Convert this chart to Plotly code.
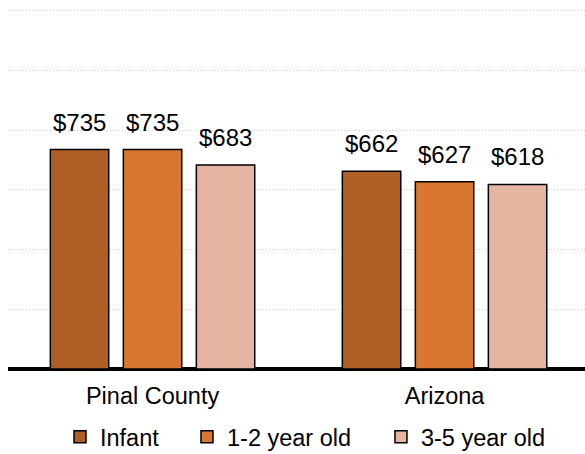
import plotly.graph_objects as go

# Average monthly child care cost by age group
regions = ["Pinal County", "Arizona"]
age_groups = ["Infant", "1-2 year old", "3-5 year old"]
infant = [735, 662]
toddler = [735, 627]
preschool = [683, 618]

series = [infant, toddler, preschool]
colors = ["#B05F24", "#D97730", "#E6B5A1"]
legend_ids = ["legend", "legend2", "legend3"]
legend_x = [0.0901, 0.3102, 0.6464]

FONT = "Liberation Sans, Arial, sans-serif"
BARGAP = 0.25
BARGROUPGAP = 0.2

fig = go.Figure()
for name, vals, col, lg in zip(age_groups, series, colors, legend_ids):
    fig.add_trace(go.Bar(
        x=regions, y=vals, name=name, legend=lg,
        marker=dict(color=col, line=dict(color="black", width=1.5)),
        hoverinfo="skip",
    ))

# Dollar labels above each bar, placed at the centre of its slot in the group
slot = (1 - BARGAP) / len(series)
for k, vals in enumerate(series):
    offset = (k - (len(series) - 1) / 2) * slot
    for i, v in enumerate(vals):
        fig.add_annotation(
            x=i + offset, y=v, xref="x", yref="y",
            text=f"${v:,}", showarrow=False,
            yanchor="bottom", yshift=12,
            font=dict(family=FONT, size=24, color="black"),
        )

legend_style = dict(
    orientation="h", xanchor="left",
    yref="container", y=0.0374, yanchor="middle",
    font=dict(family=FONT, size=23.5, color="black"),
    itemwidth=30, bgcolor="rgba(0,0,0,0)",
)

fig.update_layout(
    width=585, height=454,
    margin=dict(l=8, r=0, t=8, b=85, autoexpand=False),
    paper_bgcolor="white", plot_bgcolor="white",
    barmode="group", bargap=BARGAP, bargroupgap=BARGROUPGAP,
    font=dict(family=FONT, size=24, color="black"),
    showlegend=True,
    legend=dict(x=legend_x[0], **legend_style),
    legend2=dict(x=legend_x[1], **legend_style),
    legend3=dict(x=legend_x[2], **legend_style),
    xaxis=dict(
        range=[-0.495, 1.481], showgrid=False, showline=False,
        ticks="", tickfont=dict(family=FONT, size=23.5, color="black"),
        ticklabelstandoff=10, automargin=False,
    ),
    yaxis=dict(
        range=[0, 1209], dtick=200, showticklabels=False,
        showgrid=True, gridcolor="#D0D0D0", gridwidth=1, griddash="1px,2px",
        zeroline=True, zerolinecolor="black", zerolinewidth=4,
        showline=False, ticks="", automargin=False,
    ),
)

fig.write_html("out.html")
